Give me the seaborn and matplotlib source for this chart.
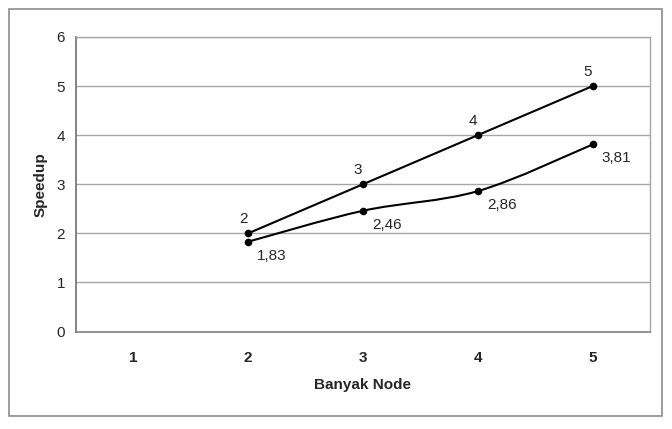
import matplotlib
matplotlib.use("Agg")
import matplotlib.pyplot as plt
from matplotlib.path import Path
from matplotlib.patches import PathPatch, Rectangle
import numpy as np
import pandas as pd
import seaborn as sns

# ── Data ───────────────────────────────────────────────────────────────────────
NODES = [1, 2, 3, 4, 5]
SERIES_NODES = [2, 3, 4, 5]
IDEAL = [2, 3, 4, 5]
ACTUAL = [1.83, 2.46, 2.86, 3.81]
IDEAL_LABELS = ["2", "3", "4", "5"]
ACTUAL_LABELS = ["1,83", "2,46", "2,86", "3,81"]
Y_TICKS = [0, 1, 2, 3, 4, 5, 6]

GRID = "#a6a6a6"
AXIS = "#808080"


def smooth_path(xs, ys):
    """Excel-style smoothed line: Catmull-Rom segments as cubic Beziers."""
    pts = np.column_stack([xs, ys]).astype(float)
    n = len(pts)
    verts, codes = [pts[0]], [Path.MOVETO]
    for i in range(n - 1):
        p0, p1 = pts[max(i - 1, 0)], pts[i]
        p2, p3 = pts[i + 1], pts[min(i + 2, n - 1)]
        verts += [p1 + (p2 - p0) / 6, p2 - (p3 - p1) / 6, p2]
        codes += [Path.CURVE4] * 3
    return Path(verts, codes)


sns.set_style("white")
plt.rcParams["font.family"] = ["Liberation Sans", "DejaVu Sans"]

fig = plt.figure(figsize=(6.72, 4.29), dpi=100)
fig.patches.append(Rectangle((9 / 672, 1 - 416 / 429), 653 / 672, 407 / 429,
                             transform=fig.transFigure, fill=False,
                             edgecolor="#8c8c8c", linewidth=1.2))
ax = fig.add_axes([76 / 672, 1 - 331.5 / 429, 574 / 672, 294.5 / 429])

df = pd.DataFrame({"node": SERIES_NODES, "ideal": IDEAL, "actual": ACTUAL})

# ideal speedup line
sns.lineplot(data=df, x="node", y="ideal", ax=ax, color="black", lw=1.5,
             marker="o", markersize=5.5, markeredgewidth=0, zorder=4)
# measured speedup: smoothed curve + markers
ax.add_patch(PathPatch(smooth_path(df["node"], df["actual"]), fill=False,
                       edgecolor="black", lw=1.5, zorder=4))
sns.scatterplot(data=df, x="node", y="actual", ax=ax, color="black", s=30,
                linewidth=0, zorder=5)

for x, y, t in zip(SERIES_NODES, IDEAL, IDEAL_LABELS):
    ax.annotate(t, (x, y), xytext=(-3.5, 10), textcoords="offset points",
                ha="center", va="center", fontsize=11)
for x, y, t in zip(SERIES_NODES, ACTUAL, ACTUAL_LABELS):
    ax.annotate(t, (x, y), xytext=(6.5, -10), textcoords="offset points",
                ha="left", va="center", fontsize=11)

ax.set_xlim(0.5, 5.5)
ax.set_ylim(0, 6)
ax.set_yticks(Y_TICKS)
ax.set_xticks(NODES)
ax.set_xticklabels([str(n) for n in NODES], fontweight="bold", fontsize=11)
ax.set_xticks(np.arange(0.5, 6, 1), minor=True)
ax.tick_params(axis="x", which="major", length=0, pad=14)
ax.tick_params(axis="x", which="minor", length=4, color=AXIS, direction="out")
ax.tick_params(axis="y", length=4, color=AXIS, direction="out", labelsize=11, pad=4)

ax.grid(axis="y", color=GRID, lw=1)
ax.set_axisbelow(True)
for side in ["top", "right"]:
    ax.spines[side].set_color(GRID)
    ax.spines[side].set_linewidth(1)
ax.spines["left"].set_color("#6e6e6e")
ax.spines["bottom"].set_color(AXIS)
for side in ["left", "bottom"]:
    ax.spines[side].set_linewidth(1.2)

ax.set_xlabel("Banyak Node", fontweight="bold", fontsize=11, labelpad=9.5)
ax.set_ylabel("Speedup", fontweight="bold", fontsize=11)
ax.yaxis.set_label_coords(-28.5 / 574, 0.5)

fig.savefig("out.png", dpi=100)
